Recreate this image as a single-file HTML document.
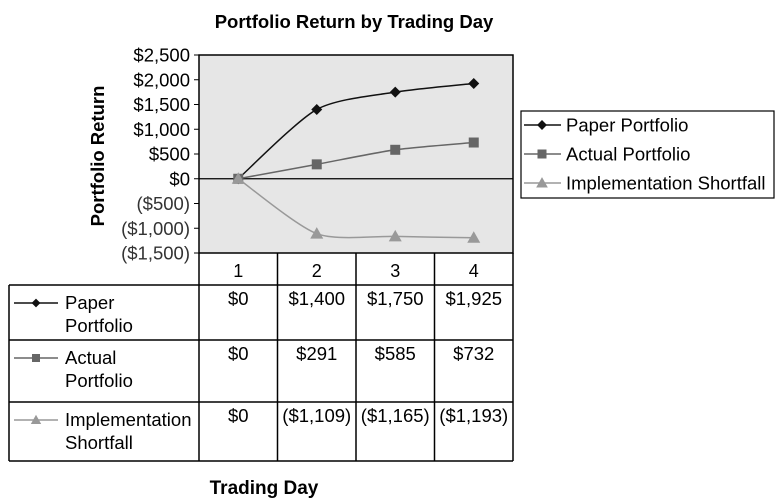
<!DOCTYPE html>
<html><head><meta charset="utf-8"><style>
html,body{margin:0;padding:0;background:#fff;}
svg{display:block;font-family:"Liberation Sans",sans-serif;}
.tbl{font-family:"Liberation Sans Narrow","Liberation Sans",sans-serif;font-size:18.5px;}
</style></head><body>
<svg id="chart" width="781" height="499" viewBox="0 0 781 499">
<text x="354" y="28" text-anchor="middle" font-size="18.5" font-weight="bold">Portfolio Return by Trading Day</text>
<rect x="199" y="55" width="314" height="198" fill="#e6e6e6" stroke="#000" stroke-width="1.5"/>
<text transform="translate(104,156) rotate(-90)" text-anchor="middle" font-size="18.5" font-weight="bold">Portfolio Return</text>
<g id="yaxis"></g>
<g id="series"></g>
<g id="table"></g>
<text x="264" y="494" text-anchor="middle" font-size="19" font-weight="bold">Trading Day</text>
<g id="legend">
<rect x="521" y="111" width="253" height="87" fill="#fff" stroke="#000" stroke-width="1.2"/>
</g>
</svg>
<script>
const categories = ['1','2','3','4'];
const seriesNames = ['Paper Portfolio','Actual Portfolio','Implementation Shortfall'];
const tableLabels = [['Paper','Portfolio'],['Actual','Portfolio'],['Implementation','Shortfall']];
const paperValues = [0,1400,1750,1925];
const actualValues = [0,291,585,732];
const shortfallValues = [0,-1109,-1165,-1193];
const yTicks = [2500,2000,1500,1000,500,0,-500,-1000,-1500];
const NS='http://www.w3.org/2000/svg';
const plotL=199,plotR=513,plotT=55,plotB=253,yMax=2500,yMin=-1500;
const colW=(plotR-plotL)/categories.length;
function x(i){return plotL+colW*(i+0.5);}
function y(v){return plotT+(yMax-v)/(yMax-yMin)*(plotB-plotT);}
function mk(tag,attrs,parent){const e=document.createElementNS(NS,tag);for(const k in attrs)e.setAttribute(k,attrs[k]);parent.appendChild(e);return e;}
function fmt(v){const s='$'+Math.abs(v).toLocaleString('en-US');return v<0?'('+s+')':s;}
const yaxis=document.getElementById('yaxis');
yTicks.forEach(t=>{
  const tk=mk('line',{x1:plotL-5,x2:plotL,y1:y(t),y2:y(t),stroke:'#000'},yaxis);
  
  
  const lb=mk('text',{x:plotL-9,y:y(t)+6.5,'text-anchor':'end','font-size':'18.5',fill:t<0?'#333':'#000'},yaxis);
  lb.textContent=fmt(t);
  
  
});
const zl=mk('line',{x1:plotL,x2:plotR,y1:y(0),y2:y(0),stroke:'#000','stroke-width':1.2},yaxis);


const colors=['#111','#666','#999'];
const allVals=[paperValues,actualValues,shortfallValues];
function smooth(pts){let d='M'+pts[0][0]+','+pts[0][1];const t=0.25;for(let i=0;i<pts.length-1;i++){const p0=pts[i-1]||pts[i],p1=pts[i],p2=pts[i+1],p3=pts[i+2]||p2;const c1=[p1[0]+(p2[0]-p0[0])*t/2,p1[1]+(p2[1]-p0[1])*t/2];const c2=[p2[0]-(p3[0]-p1[0])*t/2,p2[1]-(p3[1]-p1[1])*t/2];d+=' C'+c1+' '+c2+' '+p2;}return d;}
function marker(kind,cx,cy,col,parent,s){
  let e;
  if(kind===0)e=mk('path',{d:`M${cx},${cy-5.5*s} L${cx+5.5*s},${cy} L${cx},${cy+5.5*s} L${cx-5.5*s},${cy} Z`,fill:col},parent);
  else if(kind===1)e=mk('rect',{x:cx-5*s,y:cy-5*s,width:10*s,height:10*s,fill:col},parent);
  else e=mk('path',{d:`M${cx},${cy-6.5*s} L${cx+6.5*s},${cy+5*s} L${cx-6.5*s},${cy+5*s} Z`,fill:col},parent);
  return e;
}
const sg=document.getElementById('series');
allVals.forEach((vals,si)=>{
  const pts=vals.map((v,i)=>[x(i),y(v)]);
  const p=mk('path',{d:smooth(pts),fill:'none',stroke:colors[si],'stroke-width':1.5},sg);
  
  
  pts.forEach(pt=>{const m=marker(si,pt[0],pt[1],colors[si],sg,1);
    
    });
});
const tg=document.getElementById('table');
const hdrT=253,hdrB=285,rowB=[340,402,461],tblL=9;
mk('line',{x1:plotL,x2:plotL,y1:plotB,y2:rowB[2],stroke:'#000','stroke-width':1.5},tg);
for(let i=1;i<=categories.length;i++)mk('line',{x1:plotL+colW*i,x2:plotL+colW*i,y1:plotB,y2:rowB[2],stroke:'#000','stroke-width':1.5},tg);
mk('line',{x1:tblL,x2:plotR,y1:hdrB,y2:hdrB,stroke:'#000','stroke-width':1.5},tg);
rowB.forEach(b=>mk('line',{x1:tblL,x2:plotR,y1:b,y2:b,stroke:'#000','stroke-width':1.5},tg));
mk('line',{x1:tblL,x2:tblL,y1:hdrB,y2:rowB[2],stroke:'#000','stroke-width':1.5},tg);
categories.forEach((c,i)=>{const t=mk('text',{x:x(i),y:hdrT+24,'text-anchor':'middle','font-size':'18'},tg);t.textContent=c;
  
  });
const rowT=[hdrB,rowB[0],rowB[1]];
allVals.forEach((vals,si)=>{
  const top=rowT[si];
  mk('line',{x1:14,x2:58,y1:top+18,y2:top+18,stroke:colors[si],'stroke-width':1.5},tg);
  marker(si,36,top+18,colors[si],tg,0.8);
  tableLabels[si].forEach((l,li)=>{const t=mk('text',{x:65,y:top+24+li*23,'class':'tbl'},tg);t.textContent=l;
    
    });
  vals.forEach((v,i)=>{const t=mk('text',{x:x(i),y:top+20,'text-anchor':'middle','class':'tbl'},tg);t.textContent=fmt(v);
    
    });
});
const lg=document.getElementById('legend');
seriesNames.forEach((n,si)=>{
  const cy=125+si*29;
  mk('line',{x1:524,x2:561,y1:cy,y2:cy,stroke:colors[si],'stroke-width':1.5},lg);
  marker(si,542,cy,colors[si],lg,0.9);
  const t=mk('text',{x:566,y:cy+6.5,'font-size':'18.5'},lg);t.textContent=n;
  
  
});
</script>
</body></html>
